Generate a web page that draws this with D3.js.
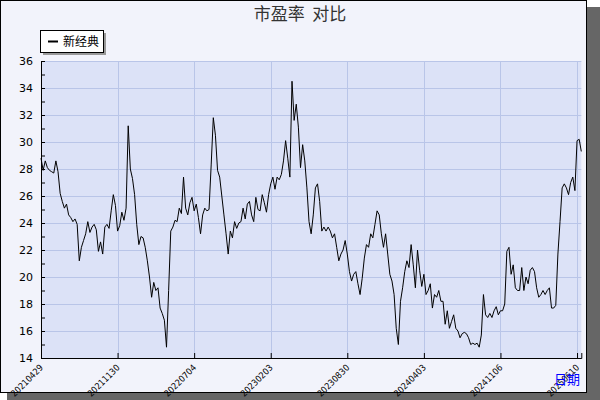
<!DOCTYPE html>
<html><head><meta charset="utf-8">
<script src="https://cdn.jsdelivr.net/npm/d3@7"></script>
<style>body{margin:0;background:#fff}svg{display:block}</style></head>
<body><svg id="c" width="600" height="400"></svg>
<script>
const title = "市盈率  对比";
const seriesName = "新经典";
const tickLabels = ["20210429","20211130","20220704","20230203","20230830","20240403","20241106","20250610"];
const seg1 = [28.8,27.9,28.6,28.1,27.9,27.8,27.7,28.6,27.8,26.2,25.6,25.1,25.4,24.6,24.4,24.1,24.3,23.9,21.2,22.2,22.7,23.2,24.1,23.3,23.7,23.9,23.5,21.9,22.6,21.7,23.7,23.9,23.6,24.9,26.1,25.3];
const seg2 = [23.4,23.8,24.8,24.2,25.1,31.2,28.0,27.3,26.1,23.9,22.4,23.0,22.9,22.2,21.2,20.0,18.5,19.6,19.0,19.2,17.7,17.3,16.8,14.8,19.0,23.4,23.7,24.2,24.1,25.1,24.7,27.4,25.1,24.6,25.5,25.9];
const seg3 = [24.9,25.4,24.4,23.2,24.6,25.1,24.9,25.0,28.3,31.8,30.5,27.9,27.4,26.0,24.6,23.2,21.7,23.4,22.9,24.1,23.6,24.0,24.1,25.1,24.3,25.4,25.6,24.6,24.1,25.9,25.0,24.9,26.1,25.5,24.8,26.1];
const seg4 = [26.9,27.4,26.5,27.4,27.2,27.6,28.6,30.1,28.8,27.4,34.5,31.6,32.8,31.1,28.1,29.8,28.6,26.6,24.1,23.2,24.6,26.6,26.9,25.6,23.4,23.7,23.4,23.7,23.4,22.9,23.2,22.2,21.2,21.7,22.0,22.7];
const seg5 = [21.7,20.4,19.7,20.2,20.4,19.5,18.7,19.9,21.4,22.4,22.2,23.2,22.9,23.9,24.9,24.6,23.2,22.2,23.2,21.7,20.2,19.7,18.7,16.2,15.0,18.2,19.2,20.4,21.2,20.7,22.4,20.9,19.2,22.0,20.5,19.3];
const seg6 = [20.2,18.7,19.0,19.5,17.7,18.7,18.5,19.0,18.2,18.2,16.5,17.5,16.2,16.7,17.2,16.2,16.0,15.5,15.8,15.9,15.8,15.5,15.0,15.1,15.0,15.1,14.8,15.7,18.7,17.2,17.0,17.3,17.0,17.5,17.8,17.2];
const seg7 = [17.5,17.5,18.0,21.9,22.2,20.2,20.9,19.2,19.0,19.0,20.7,19.0,20.0,19.5,20.5,20.7,20.4,19.2,18.5,18.7,19.0,18.7,19.0,19.2,17.7,17.7,17.9,21.7,24.1,26.6,26.9,26.6,26.1,27.0,27.4,26.4];
const seg8 = [30.1,30.2,29.3];
const values = [].concat(seg1,seg2,seg3,seg4,seg5,seg6,seg7,seg8);
const perTick = seg1.length;
const yTicks = [14,16,18,20,22,24,26,28,30,32,34,36];

const svg = d3.select("#c");
svg.append("rect").attr("x",7).attr("y",7).attr("width",593).attr("height",393).attr("fill","#666");
svg.append("rect").attr("x",0.5).attr("y",0.5).attr("width",586).attr("height",392).attr("fill","#f2f3fb").attr("stroke","#000");

const L=41,R=581.3,T=61,B=358;
const x = d3.scaleLinear().domain([0, values.length-1]).range([L,R]);
const y = d3.scaleLinear().domain([14,36]).range([B,T]);

svg.append("rect").attr("x",L).attr("y",T).attr("width",R-L).attr("height",B-T).attr("fill","#dce2f7");
const tickIdx = tickLabels.map((d,i)=>i*perTick);
svg.append("g").selectAll("line").data(yTicks).join("line")
  .attr("x1",L).attr("x2",R).attr("y1",d=>Math.round(y(d))+0.5).attr("y2",d=>Math.round(y(d))+0.5)
  .attr("stroke","#b9c5e8");
svg.append("g").selectAll("line").data(tickIdx).join("line")
  .attr("y1",T).attr("y2",B).attr("x1",d=>Math.round(x(d))+0.5).attr("x2",d=>Math.round(x(d))+0.5)
  .attr("stroke","#b9c5e8");

svg.append("path").datum(values).attr("fill","none").attr("stroke","#000").attr("stroke-width",1)
  .attr("d", d3.line().x((d,i)=>x(i)).y(d=>y(d)));

const ya = d3.axisLeft(y).tickValues(d3.range(14,37,1)).tickSize(-4).tickFormat(d=>d%2===0?d:"").tickPadding(8);
const gy = svg.append("g").attr("transform",`translate(${L},0)`).call(ya);
gy.select(".domain").attr("stroke","#000");
gy.selectAll("text").attr("font-family","DejaVu Sans").attr("font-size",11).attr("fill","#000");
const xa = d3.axisBottom(x).tickValues(tickIdx).tickSize(-5).tickFormat((d,i)=>tickLabels[i]);
const gx = svg.append("g").attr("transform",`translate(0,${B})`).call(xa);
gx.select(".domain").attr("stroke","#000");
gx.selectAll("text").attr("font-family","DejaVu Sans Condensed").attr("font-size",9).attr("fill","#000")
  .attr("text-anchor","end").attr("y",0).attr("dy","0.35em").attr("transform","translate(0,8) rotate(-45)");

svg.append("text").attr("x",580).attr("y",384).attr("text-anchor","end").attr("fill","#0000ff")
  .attr("font-family","Noto Sans CJK SC").attr("font-size",13).text("日期");
svg.append("text").attr("x",300).attr("y",20).attr("text-anchor","middle")
  .attr("font-family","Noto Sans CJK SC").attr("font-size",17).attr("fill","#333").attr("xml:space","preserve").text(title);

svg.append("rect").attr("x",43).attr("y",33).attr("width",63).attr("height",22).attr("fill","#999");
svg.append("rect").attr("x",40.5).attr("y",30.5).attr("width",63).attr("height",22).attr("fill","#fff").attr("stroke","#000");
svg.append("line").attr("x1",48).attr("x2",58).attr("y1",41.5).attr("y2",41.5).attr("stroke","#000").attr("stroke-width",2);
svg.append("text").attr("x",63).attr("y",46).attr("font-family","Noto Sans CJK SC").attr("font-size",12).attr("fill","#000").text(seriesName);
</script></body></html>
